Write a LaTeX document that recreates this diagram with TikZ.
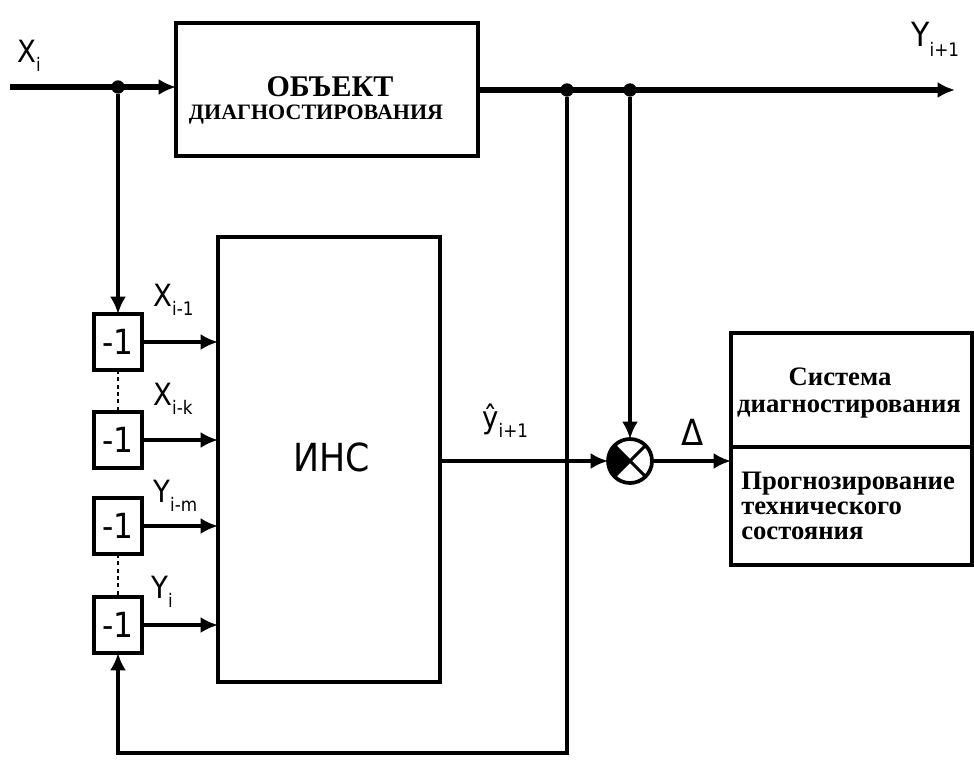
\documentclass[tikz,border=0pt]{standalone}
\usepackage{fontspec}
\setmainfont{Liberation Serif}
\newfontfamily\lab{DejaVu Sans Condensed}
\usetikzlibrary{arrows.meta}
\newcommand{\vlab}[3][23]{{\lab\fontsize{#1}{#1}\selectfont #2\raisebox{-0.3em}{\fontsize{14}{14}\selectfont #3}}}
\begin{document}
\begin{tikzpicture}[x=0.75pt,y=-0.75pt,
 thickln/.style={line width=3.8pt},
 ln/.style={line width=2.7pt},
 arr/.style={-{Latex[length=13pt,width=12pt]}},
 blk/.style={draw,line width=2.8pt,inner sep=0pt,outer sep=0pt},
 dl/.style={blk,minimum width=36pt,minimum height=42pt,font=\lab\fontsize{26}{26}\selectfont},
 dot/.style={circle,fill,inner sep=0pt,minimum size=10pt},
 lbl/.style={inner sep=0pt,anchor=base west},
 bt/.style={inner sep=0pt,font=\bfseries\fontsize{20}{20}\selectfont}]
\useasboundingbox (0,0) rectangle (974,760);
\fill[white] (0,0) rectangle (974,760);
% blocks
\node[blk,minimum width=226.5pt,minimum height=99.75pt] (obj) at (327,89.5) {};
\node[inner sep=0pt,anchor=base,font=\bfseries\fontsize{22.5}{22.5}\selectfont] (objt1) at (330,96) {ОБЪЕКТ};
\node[inner sep=0pt,anchor=base,font=\bfseries\fontsize{16.5}{16.5}\selectfont] (objt2) at (316,119) {ДИАГНОСТИРОВАНИЯ};
\node[blk,minimum width=166.5pt,minimum height=333.75pt] (ins) at (329,459.5) {};
\node[inner sep=0pt,font=\lab\fontsize{29}{29}\selectfont] (inst) at (332,457) {ИНС};
\node[dl] (d1) at (118,342) {-1};
\node[dl] (d2) at (118,440) {-1};
\node[dl] (d3) at (118,526) {-1};
\node[dl] (d4) at (118,625) {-1};
\node[blk,minimum width=180.75pt,minimum height=85.5pt] (rt1) at (851.5,390) {};
\node[blk,minimum width=180.75pt,minimum height=88.5pt] (rt2) at (851.5,506) {};
\node[bt,anchor=base] (s1) at (840,385) {Система};
\node[bt,anchor=base] (s2) at (849,412) {диагностирования};
\node[bt,anchor=base west] (p1) at (741,489) {Прогнозирование};
\node[bt,anchor=base west] (p2) at (741,514) {технического};
\node[bt,anchor=base west] (p3) at (741,539) {состояния};
% summer
\node[circle,draw,line width=2.8pt,minimum size=33pt,inner sep=0pt,outer sep=0pt] (sum) at (630,461) {};
\fill (sum.center) -- (sum.135) -- (sum.150) -- (sum.165) -- (sum.180) -- (sum.195) -- (sum.210) -- (sum.225) -- cycle;
\draw[line width=2.3pt] (sum.45) -- (sum.225) (sum.135) -- (sum.315);
% coordinates
\coordinate (in) at (10,87);
\coordinate (out) at (955,90);
\coordinate (fb) at (118,753);
\node[dot] (j1) at (118,87) {};
\node[dot] (j2) at (567,90) {};
\node[dot] (j3) at (630,90) {};
% connectors
\draw[thickln,arr] (in) -- (in -| obj.west);
\draw[thickln,arr] (obj.east |- out) -- (out);
\draw[ln,arr] (j1) -- (d1.north);
\draw[ln,arr] (j3) -- (sum.north);
\draw[ln,arr] (j2) |- (fb) -- (d4.south);
\draw[line width=2.2pt,dash pattern=on 3pt off 2.5pt] (d1.south) -- (d2.north);
\draw[line width=2.2pt,dash pattern=on 3pt off 2.5pt] (d3.south) -- (d4.north);
\foreach \d in {d1,d2,d3,d4}{\draw[ln,arr] (\d.east) -- (\d.east -| ins.west);}
\draw[ln,arr] (sum -| ins.east) -- (sum.west);
\draw[ln,arr] (sum.east) -- (sum -| rt1.west);
% labels
\node[lbl] (lxi) at (17,62) {\vlab{X}{i}};
\node[lbl] (lyo) at (911,46) {\vlab[25]{Y}{i+1}};
\node[lbl] (lx1) at (153,306) {\vlab{X}{i-1}};
\node[lbl] (lxk) at (153,405) {\vlab{X}{i-k}};
\node[lbl] (lym) at (153,502) {\vlab{Y}{i-m}};
\node[lbl] (lyi) at (151,598) {\vlab{Y}{i}};
\node[lbl] (lyh) at (482,428) {\vlab{ŷ}{i+1}};
\node[inner sep=0pt,font=\lab\fontsize{27}{27}\selectfont] (dlt) at (693,432) {Δ};
\end{tikzpicture}
\end{document}
